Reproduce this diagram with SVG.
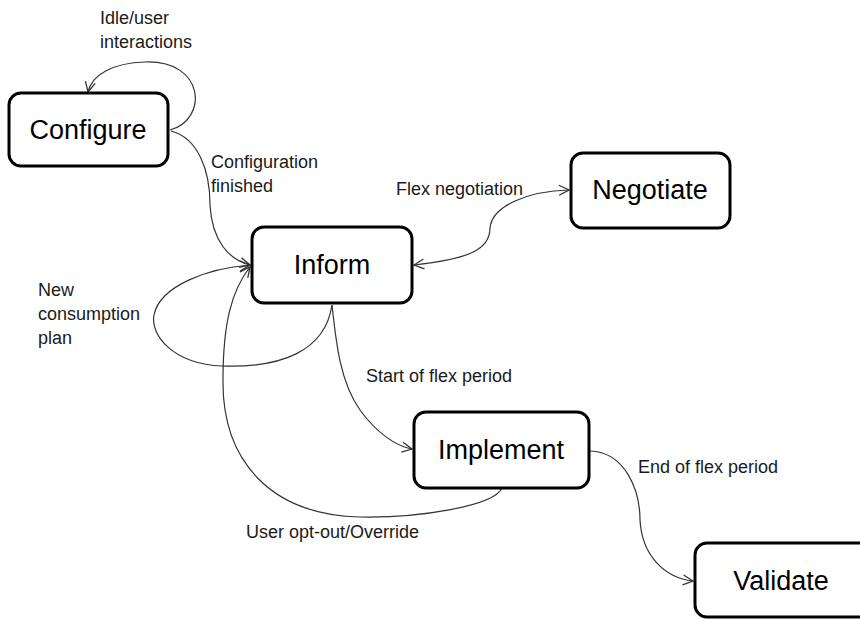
<svg xmlns="http://www.w3.org/2000/svg" width="860" height="619" viewBox="0 0 860 619">
  <style>
    .node rect { fill: #ffffff; stroke: #000000; stroke-width: 3; }
    .node text { font-family: "Liberation Sans", Arial, sans-serif; font-size: 27px; fill: #000000; text-anchor: middle; dominant-baseline: central; }
    .edge { fill: none; stroke: #333333; stroke-width: 1.2; }
    .label { font-family: "Liberation Sans", Arial, sans-serif; font-size: 18px; fill: #1a1a1a; }
  </style>
  <defs>
    <marker id="arrow" viewBox="0 0 12 12" refX="11" refY="6" markerWidth="12" markerHeight="12" markerUnits="userSpaceOnUse" orient="auto-start-reverse">
      <path d="M1,1 L11,6 L1,11" fill="none" stroke="#333333" stroke-width="1.3"/>
    </marker>
  </defs>
  <rect width="860" height="619" fill="#ffffff"/>

  <g id="connectors">
    <!-- Configure self loop -->
    <path class="edge" d="M170,130 C208,120 206,60 145,62 C112,63 92,75 88,92" marker-end="url(#arrow)"/>
    <!-- Configure -> Inform -->
    <path class="edge" d="M171,131 C198,138 210,170 210,205 C212,242 230,260 250,265" marker-end="url(#arrow)"/>
    <!-- Inform <-> Negotiate -->
    <path class="edge" d="M414,265 C468,259 490,250 490,228 C492,205 530,191 569,190" marker-start="url(#arrow)" marker-end="url(#arrow)"/>
    <!-- Inform self loop -->
    <path class="edge" d="M332,305 C325,352 280,368 222,366 C172,364 150,334 154,315 C160,285 210,268 250,265" marker-end="url(#arrow)"/>
    <!-- Inform -> Implement -->
    <path class="edge" d="M332,305 C336,342 340,382 360,410 C376,432 395,446 412,449" marker-end="url(#arrow)"/>
    <!-- Implement -> Inform -->
    <path class="edge" d="M502,488 C494,506 420,518 360,517 C270,515 222,460 223,380 C223,322 232,290 250,267" marker-end="url(#arrow)"/>
    <!-- Implement -> Validate -->
    <path class="edge" d="M590,451 C625,452 640,490 640,520 C642,556 665,578 693,581" marker-end="url(#arrow)"/>
  </g>

  <g id="labels">
    <text class="label" x="100" y="24">Idle/user</text>
    <text class="label" x="100" y="48">interactions</text>
    <text class="label" x="211" y="168">Configuration</text>
    <text class="label" x="211" y="192">finished</text>
    <text class="label" x="396" y="195">Flex negotiation</text>
    <text class="label" x="38" y="296">New</text>
    <text class="label" x="38" y="320">consumption</text>
    <text class="label" x="38" y="344">plan</text>
    <text class="label" x="366" y="382">Start of flex period</text>
    <text class="label" x="638" y="473">End of flex period</text>
    <text class="label" x="246" y="538">User opt-out/Override</text>
  </g>

  <g id="configure" class="node">
    <rect x="9" y="93" width="159" height="73" rx="12"/>
    <text x="88" y="130">Configure</text>
  </g>
  <g id="inform" class="node">
    <rect x="252" y="227" width="160" height="76" rx="12"/>
    <text x="332" y="265">Inform</text>
  </g>
  <g id="negotiate" class="node">
    <rect x="571" y="153" width="159" height="75" rx="12"/>
    <text x="650" y="190">Negotiate</text>
  </g>
  <g id="implement" class="node">
    <rect x="414" y="412" width="175" height="76" rx="12"/>
    <text x="501" y="450">Implement</text>
  </g>
  <g id="validate" class="node">
    <rect x="695" y="543" width="180" height="74" rx="12"/>
    <text x="781" y="581">Validate</text>
  </g>
</svg>
